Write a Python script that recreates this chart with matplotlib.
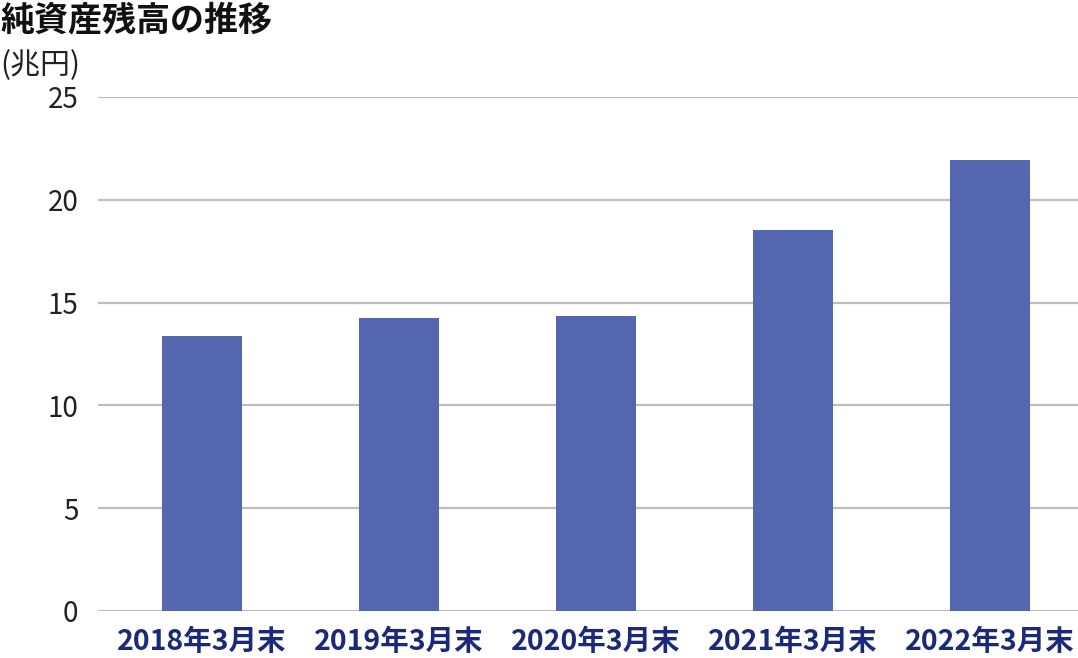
import matplotlib
matplotlib.use("Agg")
import matplotlib.pyplot as plt

plt.rcParams['font.family'] = ['Noto Sans CJK JP', 'DejaVu Sans']

categories = ["2018年3月末", "2019年3月末", "2020年3月末", "2021年3月末", "2022年3月末"]
values = [13.38, 14.25, 14.33, 18.52, 21.95]
yticks = [0, 5, 10, 15, 20, 25]

W, H = 1078, 658
fig = plt.figure(figsize=(W / 100, H / 100), dpi=100)
ax = fig.add_axes([98 / W, 1 - 611 / H, (1078 - 98) / W, (611 - 97) / H])

x = list(range(len(categories)))
ax.bar(x, values, width=0.406, color="#5466B0", zorder=3)

ax.set_xlim(-0.528, 4.447)
ax.set_ylim(0, 25)
ax.set_yticks(yticks)
ax.set_yticklabels([str(t) for t in yticks], fontsize=20, color="#222222")
ax.grid(axis="y", color="#bdbdc2", linewidth=1.6, zorder=0)
ax.set_xticks(x)
ax.set_xticklabels(categories, fontsize=20.5, fontweight="bold", color="#1b2a78")
ax.tick_params(axis="y", length=0, pad=14)
ax.tick_params(axis="x", length=0, pad=12)
for s in ax.spines.values():
    s.set_visible(False)

fig.text(0, 1 - 2 / H, "純資産残高の推移", fontsize=24.5, fontweight="bold",
         color="#111111", ha="left", va="top")
fig.text(0, 1 - 66 / H, "(兆円)", fontsize=21.5, color="#222222",
         ha="left", va="center")

fig.savefig("out.png", dpi=100)
